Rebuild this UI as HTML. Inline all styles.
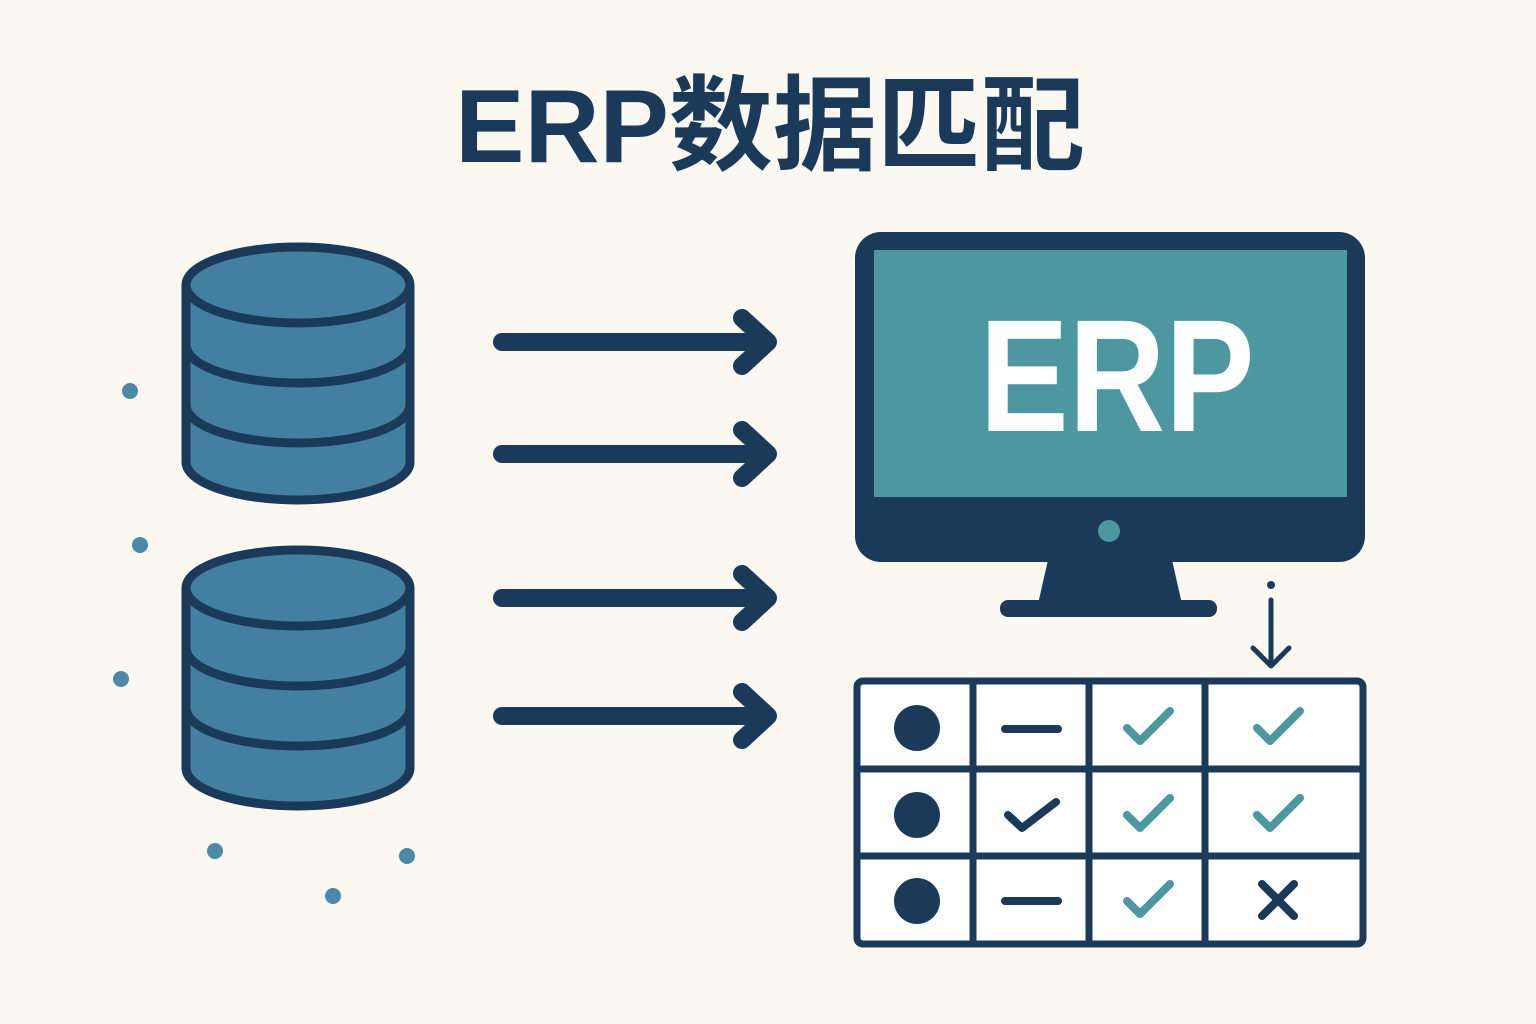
<!DOCTYPE html>
<html><head><meta charset="utf-8"><style>
html,body{margin:0;padding:0;background:#faf8f1;}
svg{display:block}
</style></head><body>
<svg width="1536" height="1024" viewBox="0 0 1536 1024" xmlns="http://www.w3.org/2000/svg">
<rect width="1536" height="1024" fill="#faf8f1"/>
<text x="770" y="162" text-anchor="middle" font-family="'Liberation Sans','Noto Sans CJK SC',sans-serif" font-weight="bold" font-size="104" fill="#1b3a5a">ERP数据匹配</text>

<g stroke="#1b3a5a" stroke-width="9" fill="#427fa0">
  <path d="M186 285 V462 A112 38 0 0 0 410 462 V285"/>
  <path d="M186 345 A112 38 0 0 0 410 345" fill="none"/>
  <path d="M186 405 A112 38 0 0 0 410 405" fill="none"/>
  <ellipse cx="298" cy="285" rx="112" ry="38"/>
  <path d="M186 588 V768 A112 38 0 0 0 410 768 V588"/>
  <path d="M186 648 A112 38 0 0 0 410 648" fill="none"/>
  <path d="M186 708 A112 38 0 0 0 410 708" fill="none"/>
  <ellipse cx="298" cy="588" rx="112" ry="38"/>
</g>

<g fill="#4a8aa8">
  <circle cx="130" cy="391" r="8"/><circle cx="140" cy="545" r="8"/><circle cx="121" cy="679" r="8"/>
  <circle cx="215" cy="851" r="8"/><circle cx="333" cy="896" r="8"/><circle cx="407" cy="856" r="8"/>
</g>

<g stroke="#1b3a5a" stroke-width="18" stroke-linecap="round" stroke-linejoin="round" fill="none">
  <line x1="502" y1="342" x2="755" y2="342"/><polyline points="742,318 768,342 742,366"/>
  <line x1="502" y1="454" x2="755" y2="454"/><polyline points="742,430 768,454 742,478"/>
  <line x1="502" y1="598" x2="755" y2="598"/><polyline points="742,574 768,598 742,622"/>
  <line x1="502" y1="716" x2="755" y2="716"/><polyline points="742,692 768,716 742,740"/>
</g>

<rect x="855" y="232" width="510" height="330" rx="26" fill="#1b3a5a"/>
<rect x="874" y="250" width="473" height="247" fill="#4d97a0"/>
<circle cx="1109" cy="531" r="11" fill="#4d97a0"/>
<polygon points="1048,560 1172,560 1182,604 1038,604" fill="#1b3a5a"/>
<rect x="1000" y="600" width="217" height="17" rx="8" fill="#1b3a5a"/>
<text x="1117" y="431" text-anchor="middle" textLength="275" lengthAdjust="spacingAndGlyphs" font-family="'Liberation Sans',sans-serif" font-weight="bold" font-size="160" fill="#ffffff">ERP</text>

<circle cx="1271" cy="585" r="4" fill="#1b3a5a"/>
<g stroke="#1b3a5a" stroke-width="5" stroke-linecap="round" stroke-linejoin="round" fill="none">
  <line x1="1271" y1="600" x2="1271" y2="664"/><polyline points="1253,648 1271,666 1289,648"/>
</g>

<g stroke="#1b3a5a" stroke-width="7" fill="none">
  <rect x="857" y="681" width="506" height="263" rx="6" fill="#ffffff"/>
  <line x1="973" y1="681" x2="973" y2="944"/><line x1="1089" y1="681" x2="1089" y2="944"/><line x1="1205" y1="681" x2="1205" y2="944"/>
  <line x1="857" y1="769" x2="1363" y2="769"/><line x1="857" y1="856" x2="1363" y2="856"/>
</g>
<g fill="#1b3a5a">
  <circle cx="917" cy="728" r="23"/><circle cx="917" cy="815" r="23"/><circle cx="917" cy="901" r="23"/>
</g>
<g stroke-linecap="round" stroke-linejoin="round" fill="none" stroke-width="8">
  <line x1="1005" y1="729" x2="1058" y2="729" stroke="#1b3a5a"/>
  <line x1="1005" y1="901" x2="1058" y2="901" stroke="#1b3a5a"/>
  <polyline points="1008,815 1022,828 1056,802" stroke="#1b3a5a"/>
  <polyline points="1127,728 1140,741 1170,711" stroke="#4d97a0"/>
  <polyline points="1257,728 1270,741 1300,711" stroke="#4d97a0"/>
  <polyline points="1127,815 1140,828 1170,798" stroke="#4d97a0"/>
  <polyline points="1257,815 1270,828 1300,798" stroke="#4d97a0"/>
  <polyline points="1127,901 1140,914 1170,884" stroke="#4d97a0"/>
  <line x1="1262" y1="884" x2="1294" y2="916" stroke="#1b3a5a"/>
  <line x1="1294" y1="884" x2="1262" y2="916" stroke="#1b3a5a"/>
</g>
</svg>
</body></html>
